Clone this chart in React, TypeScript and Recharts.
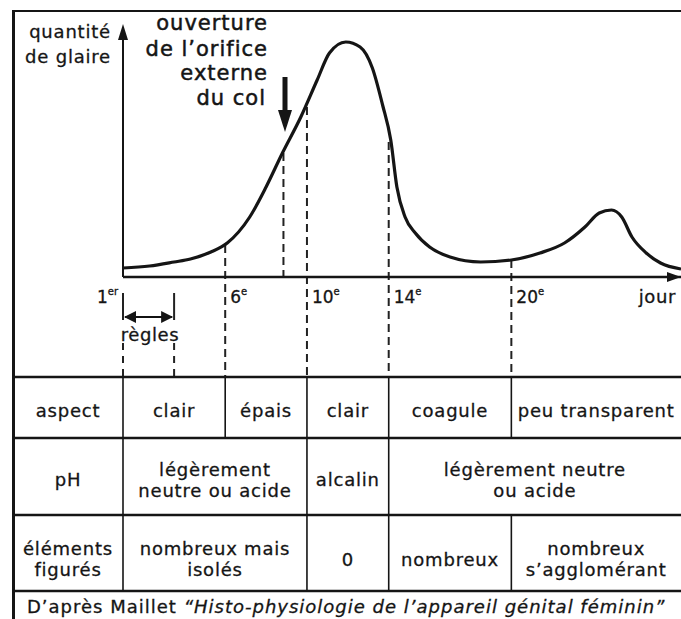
import React from 'react';
import { LineChart, Line, XAxis, YAxis, ReferenceLine } from 'recharts';

// courbe de la quantité de glaire (unités arbitraires)
const days = [1, 2.3, 3.5, 4.3, 5.3, 6.1, 7.2, 8.0, 8.8, 9.7, 10.5, 11.1, 11.9, 12.6, 13.2, 13.7, 14.1, 14.4, 14.8, 15.3, 16.0, 17.0, 18.5, 20.0, 21.4, 22.6, 23.6, 24.3, 24.9, 25.4, 25.9, 26.6, 27.3, 28.3];
const quantite = [9, 11, 15, 18, 25, 34, 60, 90, 124, 160, 197, 224, 235, 230, 209, 172, 137, 90, 60, 44, 30, 20, 15, 17, 24, 34, 50, 64, 67, 60, 40, 24, 14, 8];

const tickDays = [1, 6, 10, 14, 20];
const tickSuffix = ['er', 'e', 'e', 'e', 'e'];

// lignes pointillées : jour, haut (sur la courbe), bas (négatif = descend dans le tableau)
const guideDays = [6, 8.85, 10, 14, 20];
const guideTops = [32, 124, 170, 135, 17];
const guideBottoms = [-100, 0, -100, -100, -100];

// règles : du 1er au 3,5e jour
const reglesDays = [1, 3.5];

// tableau
const aspectCells = [['aspect'], ['clair'], ['épais'], ['clair'], ['coagule'], ['peu transparent']];
const aspectBounds = [0, 1, 6, 10, 14, 20, 99];
const phCells = [['pH'], ['légèrement', 'neutre ou acide'], ['alcalin'], ['légèrement neutre', 'ou acide']];
const phBounds = [0, 1, 10, 14, 99];
const elemCells = [['éléments', 'figurés'], ['nombreux mais', 'isolés'], ['0'], ['nombreux'], ['nombreux', 's’agglomérant']];
const elemBounds = [0, 1, 10, 14, 20, 99];

const data = days.map((d, i) => ({ day: d, q: quantite[i] }));

const W = 681;
const H = 619;
const PLOT_L = 123;
const PLOT_R = 681;
const PLOT_T = 28;
const PLOT_B = 277;
const DAY_MAX = 28.3;
const dayX = (d: number) => {
  if (d <= 0) return 13;
  if (d >= 99) return 690;
  return PLOT_L + ((d - 1) * (PLOT_R - PLOT_L)) / (DAY_MAX - 1);
};

const FONT = '"DejaVu Sans", sans-serif';
const INK = '#151515';

const rowY = [377, 438, 515, 591];

const renderTick = (props: any) => {
  const { x, y, payload } = props;
  const i = tickDays.indexOf(payload.value);
  const first = i === 0;
  return (
    <text
      x={first ? x - 5 : x + 5}
      y={y + 18}
      textAnchor={first ? 'end' : 'start'}
      fontFamily={FONT}
      fontSize={17}
      fill={INK}
      stroke={INK}
      strokeWidth={0.3}
    >
      {payload.value}
      <tspan fontSize={10} dy={-8}>{tickSuffix[i]}</tspan>
    </text>
  );
};

const TableRow = ({ cells, bounds, top, bottom, shift }: any) => {
  const mid = (top + bottom) / 2 + shift;
  return (
    <g>
      {bounds.slice(1, -1).map((b: number, i: number) => (
        <line key={'v' + i} x1={dayX(b)} x2={dayX(b)} y1={top} y2={bottom} stroke={INK} strokeWidth={1.6} />
      ))}
      {cells.map((lines: string[], i: number) => {
        const cx = (dayX(bounds[i]) + Math.min(dayX(bounds[i + 1]), 681)) / 2;
        return lines.map((t, j) => (
          <text
            key={i + '-' + j}
            x={cx}
            y={mid + (j - (lines.length - 1) / 2) * 21}
            textAnchor="middle"
            dominantBaseline="central"
            fontFamily={FONT}
            fontSize={18}
            letterSpacing={0.8}
            fill={INK}
            stroke={INK}
            strokeWidth={0.3}
          >
            {t}
          </text>
        ));
      })}
    </g>
  );
};

export default function App() {
  return (
    <div style={{ position: 'absolute', left: 0, top: 0, width: W, height: H, overflow: 'hidden', background: '#fff' }}>
      <div style={{ position: 'absolute', left: 0, top: 0 }}>
        <LineChart
          width={W}
          height={H}
          data={data}
          margin={{ top: PLOT_T, right: W - PLOT_R, left: PLOT_L, bottom: H - PLOT_B - 20 }}
        >
          <XAxis
            type="number"
            dataKey="day"
            domain={[1, DAY_MAX]}
            ticks={tickDays}
            tick={renderTick}
            tickLine={false}
            axisLine={{ stroke: INK, strokeWidth: 2.5 }}
            height={20}
            allowDataOverflow
          />
          <YAxis type="number" domain={[0, PLOT_B - PLOT_T]} width={0} hide allowDataOverflow />
          <ReferenceLine x={1} stroke={INK} strokeWidth={2} ifOverflow="visible" />
          {guideDays.map((d, i) => (
            <ReferenceLine
              key={'g' + i}
              segment={[{ x: d, y: guideTops[i] }, { x: d, y: guideBottoms[i] }]}
              stroke="#222"
              strokeWidth={2}
              strokeDasharray="8 5"
              ifOverflow="visible"
            />
          ))}
          {reglesDays.map((d, i) => (
            <ReferenceLine
              key={'rs' + i}
              segment={[{ x: d, y: -16 }, { x: d, y: -43 }]}
              stroke="#222"
              strokeWidth={2}
              ifOverflow="visible"
            />
          ))}
          {reglesDays.map((d, i) => (
            <ReferenceLine
              key={'rd' + i}
              segment={[{ x: d, y: -66 }, { x: d, y: -100 }]}
              stroke="#222"
              strokeWidth={2}
              strokeDasharray="7 6"
              ifOverflow="visible"
            />
          ))}
          <ReferenceLine
            segment={[{ x: reglesDays[0] + 0.1, y: -40 }, { x: reglesDays[1] - 0.1, y: -40 }]}
            stroke="#111"
            strokeWidth={2}
            ifOverflow="visible"
          />
          <Line
            type="monotone"
            dataKey="q"
            stroke={INK}
            strokeWidth={3.2}
            dot={false}
            isAnimationActive={false}
          />
        </LineChart>
      </div>
      <svg width={W} height={H} style={{ position: 'absolute', left: 0, top: 0, pointerEvents: 'none' }}>
        {/* cadre */}
        <line x1={12} x2={W} y1={11} y2={11} stroke={INK} strokeWidth={2} />
        <line x1={13.5} x2={13.5} y1={10} y2={H} stroke={INK} strokeWidth={3} />

        {/* flèches des axes */}
        <polygon points={`${PLOT_L},24 ${PLOT_L - 5},40 ${PLOT_L + 5},40`} fill={INK} />
        <polygon points={`${W},${PLOT_B} ${W - 14},${PLOT_B - 5} ${W - 14},${PLOT_B + 5}`} fill={INK} />

        {/* flèche des règles */}
        <polygon points={`${PLOT_L + 1},317 ${PLOT_L + 13},311 ${PLOT_L + 13},323`} fill={INK} />
        <polygon points={`${dayX(3.5) - 1},317 ${dayX(3.5) - 13},311 ${dayX(3.5) - 13},323`} fill={INK} />
        <text x={150} y={341} textAnchor="middle" fontFamily={FONT} fontSize={18} letterSpacing={0.6} fill={INK} stroke={INK} strokeWidth={0.3}>règles</text>

        {/* titre de l'axe */}
        <g fontFamily={FONT} fontSize={18} letterSpacing={0.8} fill={INK} stroke={INK} strokeWidth={0.3} textAnchor="end">
          <text x={111} y={38}>quantité</text>
          <text x={111} y={63}>de glaire</text>
        </g>
        <text x={676} y={303} textAnchor="end" fontFamily={FONT} fontSize={18} letterSpacing={0.6} fill={INK} stroke={INK} strokeWidth={0.3}>jour</text>

        {/* ouverture du col */}
        <g fontFamily={FONT} fontSize={21} letterSpacing={1} fill={INK} stroke={INK} strokeWidth={0.5} textAnchor="end">
          <text x={268} y={30}>ouverture</text>
          <text x={268} y={56}>de l’orifice</text>
          <text x={268} y={80}>externe</text>
          <text x={266} y={105}>du col</text>
        </g>
        <rect x={282.5} y={77} width={5} height={36} fill={INK} />
        <polygon points="278,110 292,110 285,132" fill={INK} />

        {/* tableau */}
        {rowY.map((y, i) => (
          <line key={'h' + i} x1={12} x2={W} y1={y} y2={y} stroke={INK} strokeWidth={2.5} />
        ))}
        <TableRow cells={aspectCells} bounds={aspectBounds} top={rowY[0]} bottom={rowY[1]} shift={3} />
        <TableRow cells={phCells} bounds={phBounds} top={rowY[1]} bottom={rowY[2]} shift={3} />
        <TableRow cells={elemCells} bounds={elemBounds} top={rowY[2]} bottom={rowY[3]} shift={6} />

        <text x={27} y={613} fontFamily={FONT} fontSize={18} letterSpacing={1} fill={INK} stroke={INK} strokeWidth={0.3}>
          D’après Maillet{' '}
          <tspan fontStyle="italic">“Histo-physiologie de l’appareil génital féminin”</tspan>
        </text>
      </svg>
    </div>
  );
}
